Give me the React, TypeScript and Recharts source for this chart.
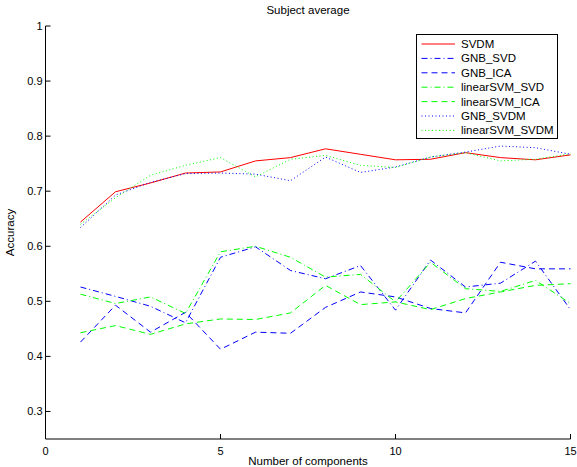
import { LineChart, Line, XAxis, YAxis, Legend } from 'recharts';

const components = [1, 2, 3, 4, 5, 6, 7, 8, 9, 10, 11, 12, 13, 14, 15];

const svdm = [0.644, 0.699, 0.715, 0.733, 0.735, 0.755, 0.761, 0.777, 0.767, 0.757, 0.758, 0.77, 0.761, 0.757, 0.766];
const gnbSvd = [0.526, 0.509, 0.491, 0.461, 0.58, 0.599, 0.556, 0.541, 0.565, 0.484, 0.575, 0.526, 0.533, 0.573, 0.485];
const gnbIca = [0.426, 0.493, 0.444, 0.48, 0.413, 0.444, 0.442, 0.489, 0.517, 0.508, 0.487, 0.479, 0.571, 0.559, 0.559];
const linSvd = [0.513, 0.496, 0.508, 0.478, 0.59, 0.6, 0.58, 0.544, 0.549, 0.499, 0.571, 0.523, 0.518, 0.538, 0.496];
const linIca = [0.443, 0.456, 0.44, 0.459, 0.468, 0.467, 0.479, 0.529, 0.494, 0.499, 0.485, 0.505, 0.517, 0.529, 0.532];
const gnbSvdm = [0.634, 0.693, 0.716, 0.732, 0.733, 0.731, 0.719, 0.762, 0.734, 0.744, 0.762, 0.771, 0.782, 0.779, 0.767];
const linSvdm = [0.64, 0.688, 0.729, 0.747, 0.761, 0.726, 0.758, 0.765, 0.747, 0.743, 0.762, 0.77, 0.755, 0.758, 0.768];

const xTicks = [0, 5, 10, 15];
const yTicks = [0.3, 0.4, 0.5, 0.6, 0.7, 0.8, 0.9, 1];

const DASH = '6 4';
const DASHDOT = '6 3 1 3';
const DOT = '1 2.5';

const series = [
  { name: 'SVDM', values: svdm, color: '#ff0000', dash: undefined as string | undefined },
  { name: 'GNB_SVD', values: gnbSvd, color: '#0000ff', dash: DASHDOT },
  { name: 'GNB_ICA', values: gnbIca, color: '#0000ff', dash: DASH },
  { name: 'linearSVM_SVD', values: linSvd, color: '#00ff00', dash: DASHDOT },
  { name: 'linearSVM_ICA', values: linIca, color: '#00ff00', dash: DASH },
  { name: 'GNB_SVDM', values: gnbSvdm, color: '#0000ff', dash: DOT },
  { name: 'linearSVM_SVDM', values: linSvdm, color: '#00ff00', dash: DOT },
];

const data = components.map((c, i) => {
  const row: Record<string, number> = { x: c };
  series.forEach((s) => {
    row[s.name] = s.values[i];
  });
  return row;
});

const FONT = '"Liberation Sans", Arial, Helvetica, sans-serif';

const XTick = ({ x, y, payload }: any) => (
  <g>
    <line x1={x} y1={y} x2={x} y2={y - 5} stroke="#000" />
    <text x={x} y={y + 16} textAnchor="middle" fontSize={11} fontFamily={FONT} fill="#000">
      {payload.value}
    </text>
  </g>
);

const YTick = ({ x, y, payload }: any) => (
  <g>
    <line x1={x} y1={y} x2={x + 5} y2={y} stroke="#000" />
    <text x={x - 3} y={y + 4} textAnchor="end" fontSize={11} fontFamily={FONT} fill="#000">
      {payload.value === 1 ? '1' : payload.value.toFixed(1)}
    </text>
  </g>
);

const LegendBox = () => (
  <svg width={142} height={105} style={{ display: 'block' }}>
    <rect x={0.5} y={0.5} width={141} height={104} fill="#fff" stroke="#000" />
    {series.map((s, i) => {
      const y = 10 + 14.4 * i;
      return (
        <g key={s.name}>
          <line x1={5.5} x2={39} y1={y} y2={y} stroke={s.color} strokeDasharray={s.dash} />
          <text x={45} y={y + 4} fontSize={11.5} fontFamily={FONT} fill="#000">
            {s.name}
          </text>
        </g>
      );
    })}
  </svg>
);

export default function App() {
  return (
    <div style={{ position: 'absolute', left: 0, top: 0, width: 577, height: 467, background: '#fff' }}>
      <div
        style={{
          position: 'absolute',
          left: 45.5,
          width: 525,
          top: 4,
          textAlign: 'center',
          fontFamily: FONT,
          fontSize: 11.5,
          color: '#000',
        }}
      >
        Subject average
      </div>
      <LineChart width={577} height={467} data={data} margin={{ top: 26, right: 6.5, left: 0, bottom: 0 }}>
        <XAxis
          dataKey="x"
          type="number"
          domain={[0, 15]}
          ticks={xTicks}
          height={28}
          tickSize={0}
          tickMargin={0}
          tickLine={false}
          tick={<XTick />}
          axisLine={{ stroke: '#000' }}
          interval={0}
          label={{
            content: ({ viewBox }: any) => (
              <text
                x={viewBox.x + viewBox.width / 2}
                y={465}
                textAnchor="middle"
                fontSize={11.5}
                fontFamily={FONT}
                fill="#000"
              >
                Number of components
              </text>
            ),
          }}
        />
        <YAxis
          type="number"
          domain={[0.25, 1]}
          ticks={yTicks}
          width={45.5}
          tickSize={0}
          tickMargin={0}
          tickLine={false}
          tick={<YTick />}
          axisLine={{ stroke: '#000' }}
          interval={0}
          label={{
            content: ({ viewBox }: any) => {
              const cy = viewBox.y + viewBox.height / 2;
              return (
                <text
                  x={14}
                  y={cy}
                  transform={`rotate(-90 14 ${cy})`}
                  textAnchor="middle"
                  fontSize={11.5}
                  fontFamily={FONT}
                  fill="#000"
                >
                  Accuracy
                </text>
              );
            },
          }}
        />
        {series.map((s) => (
          <Line
            key={s.name}
            dataKey={s.name}
            stroke={s.color}
            strokeWidth={1}
            strokeDasharray={s.dash}
            dot={false}
            activeDot={false}
            type="linear"
            isAnimationActive={false}
          />
        ))}
        <Legend
          layout="horizontal"
          align="center"
          verticalAlign="middle"
          wrapperStyle={{ left: 416, top: 34, width: 142, height: 105 }}
          content={() => <LegendBox />}
        />
      </LineChart>
    </div>
  );
}
